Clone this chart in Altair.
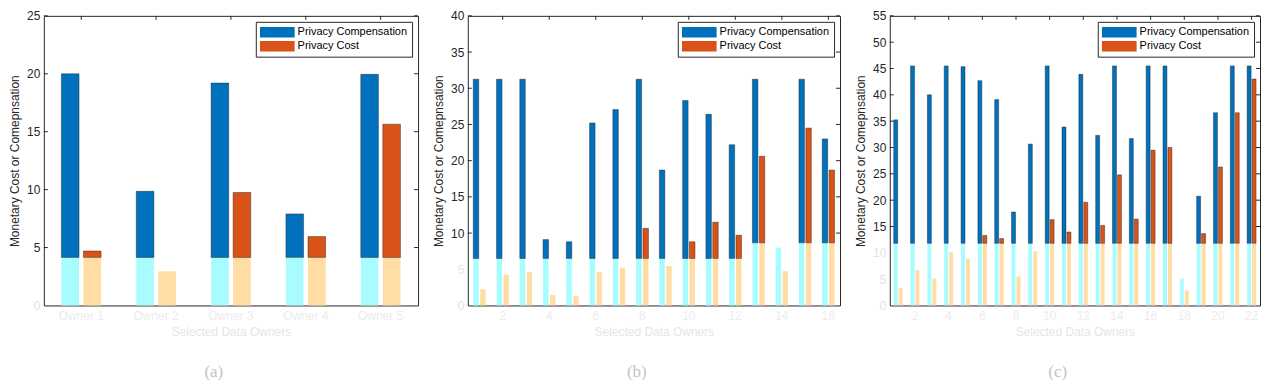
import altair as alt
import pandas as pd

COMP = "Privacy Compensation"
COST = "Privacy Cost"
SERIES = [COMP, COST]
DARK = ["#0072BD", "#D95319"]
LIGHT = ["#A8FCFF", "#FFDDA4"]

# ---- panel (a)
a_cats = ["Owner 1", "Owner 2", "Owner 3", "Owner 4", "Owner 5"]
a_comp = [20.0, 9.85, 19.2, 7.9, 19.95]
a_cost = [4.7, 2.95, 9.75, 5.95, 15.65]
a_wash = [4.15, 4.15, 4.15, 4.15, 4.15]
a_ticks = [0, 5, 10, 15, 20, 25]

# ---- panel (b)
b_cats = list(range(1, 17))
b_comp = [31.25, 31.25, 31.25, 9.1, 8.8, 25.2, 27.05, 31.25, 18.7, 28.3, 26.4, 22.2, 31.25, 8.0, 31.25, 23.0]
b_cost = [2.25, 4.25, 4.6, 1.45, 1.35, 4.6, 5.2, 10.65, 5.45, 8.8, 11.5, 9.7, 20.6, 4.75, 24.5, 18.7]
b_wash = [6.5] * 12 + [8.65] * 4
b_ticks = [0, 5, 10, 15, 20, 25, 30, 35, 40]

# ---- panel (c)
c_cats = list(range(1, 23))
c_comp = [35.25, 45.5, 40.0, 45.5, 45.35, 42.7, 39.1, 17.75, 30.65, 45.5, 33.9,
          43.9, 32.3, 45.5, 31.7, 45.5, 45.5, 5.1, 20.75, 36.6, 45.5, 45.5]
c_cost = [3.3, 6.7, 5.1, 10.1, 8.85, 13.3, 12.7, 5.5, 10.3, 16.3, 13.95,
          19.6, 15.2, 24.8, 16.4, 29.5, 30.0, 2.85, 13.65, 26.3, 36.6, 43.0]
c_wash = [11.8] * 22
c_ticks = [0, 5, 10, 15, 20, 25, 30, 35, 40, 45, 50, 55]

LEGEND_PATH = "M-1,-0.3H1V0.3H-1Z"
TXT = "#262626"
FAINT = "#ececec"


def panel(cats, comp, cost, wash, ticks, caption, width, even_only):
    rows = []
    for c, v1, v2, w in zip(cats, comp, cost, wash):
        rows.append({"cat": c, "series": COMP, "value": v1, "wash": w})
        rows.append({"cat": c, "series": COST, "value": v2, "wash": w})
    df = pd.DataFrame(rows)
    ymax = ticks[-1]
    wmin = min(wash)

    xaxis = alt.Axis(
        title="Selected Data Owners", labelAngle=0, ticks=False, domain=False,
        labelColor=FAINT, titleColor="#e6e6e6", labelFontSize=12, titleFontSize=12,
        titleFontWeight="normal", labelPadding=5, titlePadding=5,
        labelExpr="datum.value % 2 == 0 ? datum.label : ''" if even_only else "datum.label",
    )
    yaxis = alt.Axis(
        title="Monetary Cost or Comepnsation", values=ticks, grid=False, domain=False,
        ticks=False, labelFontSize=12, titleFontSize=12, titleFontWeight="normal",
        titleColor=TXT, labelPadding=4, minExtent=18, maxExtent=18, titlePadding=4,
        labelColor={"condition": {"test": f"datum.value < {wmin}", "value": "#e4e4e4"}, "value": TXT},
    )
    xs = alt.Scale(paddingInner=0.47, paddingOuter=0.235)
    ys = alt.Scale(domain=[0, ymax], nice=False, zero=True)
    xo = alt.XOffset("series:N", sort=SERIES, scale=alt.Scale(paddingInner=0.2))
    X = alt.X("cat:O", sort=cats, scale=xs, axis=xaxis)

    base = alt.Chart(df)
    light = base.transform_calculate(lo="min(datum.value, datum.wash)").mark_bar().encode(
        x=X, xOffset=xo,
        y=alt.Y("lo:Q", scale=ys, axis=yaxis),
        color=alt.Color("series:N", sort=SERIES, scale=alt.Scale(domain=SERIES, range=LIGHT), legend=None),
    )
    dark = base.transform_filter("datum.value > datum.wash").mark_bar(
        stroke="#1a1a1a", strokeWidth=0.6, strokeOpacity=0.7
    ).encode(
        x=X, xOffset=xo,
        y=alt.Y("value:Q", scale=ys, axis=yaxis),
        y2="wash:Q",
        color=alt.Color(
            "series:N", sort=SERIES, scale=alt.Scale(domain=SERIES, range=DARK),
            legend=alt.Legend(
                title=None, orient="top-right", offset=6, fillColor="white",
                strokeColor=TXT, padding=4, symbolType=LEGEND_PATH, symbolSize=1225,
                symbolStrokeWidth=0, symbolOpacity=1, clipHeight=13, rowPadding=1,
                labelFontSize=11, labelColor="#000000", labelOffset=3,
            ),
        ),
    )

    tdf = pd.DataFrame({"t": [t for t in ticks if t > wmin]})
    ytick_l = alt.Chart(tdf).mark_rule(color=TXT, strokeWidth=1).encode(
        y=alt.Y("t:Q", scale=ys, axis=yaxis), x=alt.value(0), x2=alt.value(4))
    ytick_r = alt.Chart(tdf).mark_rule(color=TXT, strokeWidth=1).encode(
        y=alt.Y("t:Q", scale=ys, axis=yaxis), x=alt.value(width - 4), x2=alt.value(width))
    top_cats = [c for c in cats if (not even_only) or (c % 2 == 0)]
    xdf = pd.DataFrame({"cat": top_cats})
    xtick = alt.Chart(xdf).mark_rule(color=TXT, strokeWidth=1).encode(
        x=alt.X("cat:O", sort=cats, scale=xs, axis=xaxis), y=alt.value(0), y2=alt.value(4))

    return alt.layer(light, dark, ytick_l, ytick_r, xtick).resolve_scale(
        color="independent"
    ).properties(
        width=width, height=291,
        title=alt.TitleParams(caption, orient="bottom", anchor="middle", frame="bounds",
                              color="#c4c4c4", font="Liberation Serif", fontSize=17,
                              fontWeight="normal", offset=27),
    )


pa = panel(a_cats, a_comp, a_cost, a_wash, a_ticks, "(a)", 376, False)
pb = panel(b_cats, b_comp, b_cost, b_wash, b_ticks, "(b)", 374, True)
pc = panel(c_cats, c_comp, c_cost, c_wash, c_ticks, "(c)", 372, True)

chart = alt.hconcat(pa, pb, pc, spacing=13).resolve_scale(
    x="independent", y="independent", color="independent", xOffset="independent"
).properties(padding=0).configure(
    font="Liberation Sans", background="white"
).configure_view(stroke=TXT, strokeWidth=1)

chart.save("out.html", embed_options={"renderer": "svg", "actions": False})
